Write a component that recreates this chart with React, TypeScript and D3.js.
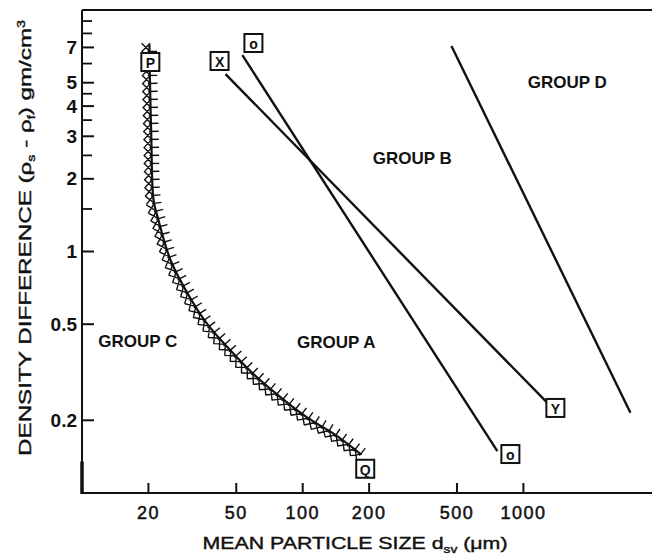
import React, { useEffect, useRef } from "react";
import * as d3 from "d3";

const W = 652;
const H = 559;

const xTicks = [20, 50, 100, 200, 500, 1000];
const yTicksMajor = [7, 5, 4, 3, 2, 1, 0.5, 0.2];
const yTicksMinor = [9, 8, 6, 4.5, 3.5, 2.5, 1.5];

// C / A boundary (hatched)  [d_sv, density]
const boundaryCA: [number, number][] = [
  [20.2, 7.2], [20.3, 5.3], [20.6, 3.0], [21.1, 1.63], [22.2, 1.35],
  [25.2, 0.92], [30.1, 0.67], [37, 0.5], [47, 0.39], [60, 0.31],
  [79, 0.25], [105, 0.205], [138, 0.176], [183, 0.145],
];
// A / B boundary through the "o" boxes
const boundaryO: [number, number][] = [[53.3, 6.5], [762, 0.149]];
// A / B boundary through X and Y
const boundaryXY: [number, number][] = [[44.7, 5.43], [1285, 0.236]];
// B / D boundary
const boundaryBD: [number, number][] = [[472, 7.1], [3055, 0.215]];

const boxLabels = ["P", "X", "o", "Y", "o", "Q"];
const boxX = [20.4, 42, 59.8, 1396, 873, 192];
const boxY = [6.09, 6.15, 7.3, 0.225, 0.145, 0.126];

const groupNames = ["GROUP C", "GROUP A", "GROUP B", "GROUP D"];
const groupX = [17.9, 142, 314, 1581];
const groupY = [0.423, 0.419, 2.43, 5.03];

export default function App() {
  const ref = useRef<SVGSVGElement>(null);

  useEffect(() => {
    const svg = d3.select(ref.current);
    svg.selectAll("*").remove();

    const x = d3.scaleLog().domain([10, 10000]).range([82, 82 + 3 * 220.7]);
    const y = d3.scaleLog().domain([0.1, 10]).range([493, 10]);
    const font = "'Liberation Sans', Arial, sans-serif";

    const g = svg.append("g");

    // frame
    g.append("line").attr("x1", 82).attr("x2", W).attr("y1", 10).attr("y2", 10)
      .attr("stroke", "#111").attr("stroke-width", 2);
    g.append("line").attr("x1", 82).attr("x2", 82).attr("y1", 10).attr("y2", 493)
      .attr("stroke", "#111").attr("stroke-width", 2);
    g.append("line").attr("x1", 82).attr("x2", 82).attr("y1", y(0.135)).attr("y2", 494)
      .attr("stroke", "#111").attr("stroke-width", 3.5);
    g.append("line").attr("x1", 81).attr("x2", W).attr("y1", 493).attr("y2", 493)
      .attr("stroke", "#111").attr("stroke-width", 2);

    // y ticks
    yTicksMajor.forEach((v) => {
      g.append("line").attr("x1", 82).attr("x2", 94).attr("y1", y(v)).attr("y2", y(v))
        .attr("stroke", "#111").attr("stroke-width", 2);
      g.append("text").attr("x", 77).attr("y", y(v)).attr("text-anchor", "end")
        .attr("dominant-baseline", "central").attr("font-family", font)
        .attr("font-size", 19).attr("font-weight", "bold").attr("fill", "#111")
        .text(String(v));
    });
    yTicksMinor.forEach((v) => {
      g.append("line").attr("x1", 82).attr("x2", 92).attr("y1", y(v)).attr("y2", y(v))
        .attr("stroke", "#111").attr("stroke-width", 1.8);
    });

    // x ticks
    xTicks.forEach((v) => {
      g.append("line").attr("x1", x(v)).attr("x2", x(v)).attr("y1", 493).attr("y2", 483)
        .attr("stroke", "#111").attr("stroke-width", 2);
      g.append("text").attr("x", x(v)).attr("y", 513).attr("text-anchor", "middle")
        .attr("dominant-baseline", "central").attr("font-family", font)
        .attr("font-size", 18).attr("letter-spacing", 1.5).attr("fill", "#111")
        .attr("stroke", "#111").attr("stroke-width", 0.5)
        .text(String(v));
    });

    // axis titles
    const xt = g.append("text").attr("x", 355).attr("y", 549).attr("text-anchor", "middle")
      .attr("font-family", font).attr("font-size", 17).attr("fill", "#111")
      .attr("stroke", "#111").attr("stroke-width", 0.4)
      .attr("textLength", 305).attr("lengthAdjust", "spacingAndGlyphs");
    xt.append("tspan").text("MEAN PARTICLE SIZE  d");
    xt.append("tspan").attr("font-size", 11).attr("dy", 4).text("sv");
    xt.append("tspan").attr("dy", -4).text(" (μm)");

    const yt = g.append("text").attr("transform", "translate(31,238) rotate(-90)")
      .attr("text-anchor", "middle").attr("font-family", font).attr("font-size", 17)
      .attr("fill", "#111").attr("stroke", "#111").attr("stroke-width", 0.4)
      .attr("textLength", 436).attr("lengthAdjust", "spacingAndGlyphs");
    yt.append("tspan").text("DENSITY DIFFERENCE (ρ");
    yt.append("tspan").attr("font-size", 10).attr("dy", 4).text("s");
    yt.append("tspan").attr("dy", -4).text(" - ρ");
    yt.append("tspan").attr("font-size", 10).attr("dy", 4).text("f");
    yt.append("tspan").attr("dy", -4).text(") gm/cm");
    yt.append("tspan").attr("font-size", 10).attr("dy", -6).text("3");

    const line = d3.line<[number, number]>().x((d) => x(d[0])).y((d) => y(d[1]));

    [boundaryO, boundaryXY, boundaryBD].forEach((data) => {
      g.append("path").attr("d", line(data)).attr("fill", "none")
        .attr("stroke", "#111").attr("stroke-width", 2.4);
    });

    // hatched C/A boundary
    const curve = d3.line<[number, number]>().x((d) => x(d[0])).y((d) => y(d[1]))
      .curve(d3.curveCatmullRom.alpha(0.5));
    const cp = g.append("path").attr("d", curve(boundaryCA)).attr("fill", "none")
      .attr("stroke", "#111").attr("stroke-width", 2.2);
    const node = cp.node() as SVGPathElement;
    const L = node.getTotalLength();
    let hatch = "";
    const step = 8;
    for (let s = 3; s < L - 2; s += step) {
      const p = node.getPointAtLength(s);
      const p2 = node.getPointAtLength(Math.min(L, s + 0.5));
      const p1 = node.getPointAtLength(Math.max(0, s - 0.5));
      let tx = p2.x - p1.x, ty = p2.y - p1.y;
      const tl = Math.hypot(tx, ty) || 1;
      tx /= tl; ty /= tl;
      const nx = -ty, ny = tx; // points to lower-left side
      const cx = p.x + nx * 3.5, cy = p.y + ny * 3.5;
      const a = 4.3;
      hatch += `M${cx + (tx + nx) * a},${cy + (ty + ny) * a}L${cx - (tx + nx) * a},${cy - (ty + ny) * a}`;
      hatch += `M${cx + (tx - nx) * a},${cy + (ty - ny) * a}L${cx - (tx - nx) * a},${cy - (ty - ny) * a}`;
      const q = node.getPointAtLength(Math.min(L, s + step / 2));
      hatch += `M${q.x + nx * 2},${q.y + ny * 2}L${q.x - nx * 7.5},${q.y - ny * 7.5}`;
    }
    g.append("path").attr("d", hatch).attr("fill", "none").attr("stroke", "#111")
      .attr("stroke-width", 1.4);

    // labelled boxes
    boxLabels.forEach((lab, i) => {
      const cx = x(boxX[i]), cy = y(boxY[i]);
      g.append("rect").attr("x", cx - 9).attr("y", cy - 9).attr("width", 18).attr("height", 18)
        .attr("fill", "#fff").attr("stroke", "#111").attr("stroke-width", 2);
      g.append("text").attr("x", cx).attr("y", cy + 1).attr("text-anchor", "middle")
        .attr("dominant-baseline", "central").attr("font-family", font)
        .attr("font-size", 14).attr("font-weight", "bold").attr("fill", "#111").text(lab);
    });

    // group labels
    groupNames.forEach((name, i) => {
      g.append("text").attr("x", x(groupX[i])).attr("y", y(groupY[i]))
        .attr("text-anchor", "middle").attr("dominant-baseline", "central")
        .attr("font-family", font).attr("font-size", 17).attr("font-weight", "bold")
        .attr("fill", "#111").text(name);
    });
  }, []);

  return (
    <svg ref={ref} width={W} height={H} style={{ position: "absolute", left: 0, top: 0, background: "#fff" }} />
  );
}
